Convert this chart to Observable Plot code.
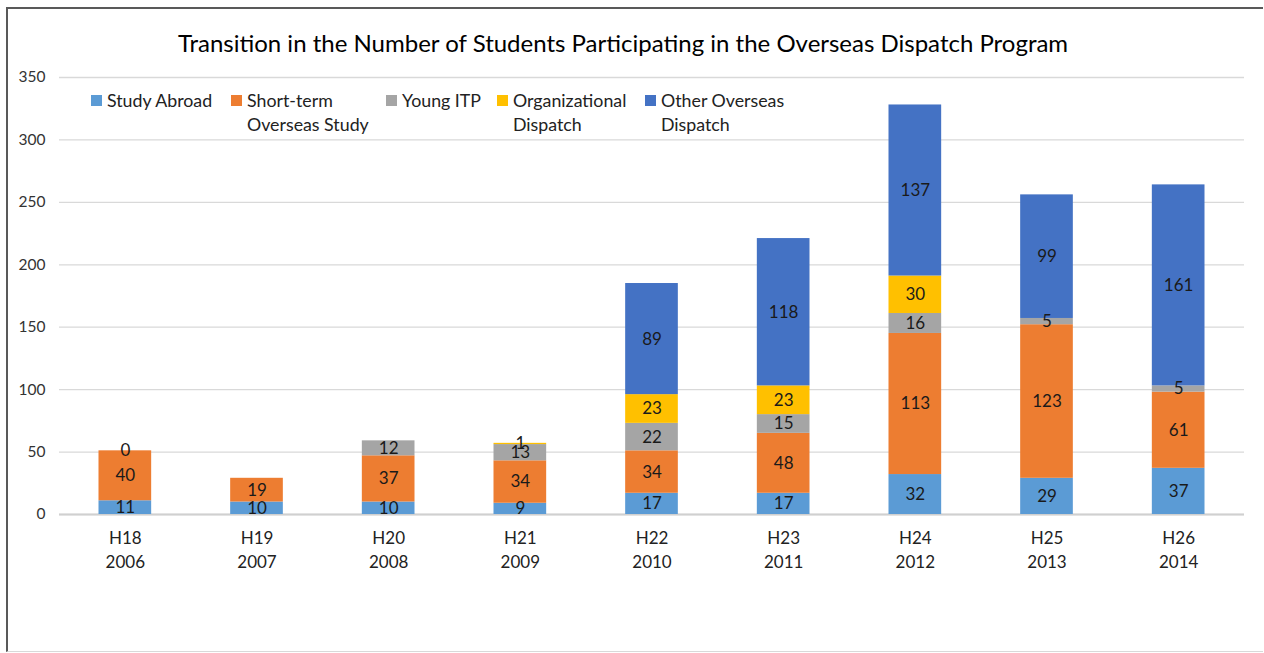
<!DOCTYPE html>
<html>
<head>
<meta charset="utf-8">
<script src="https://cdn.jsdelivr.net/npm/d3@7"></script>
<script src="https://cdn.jsdelivr.net/npm/@observablehq/plot@0.6"></script>
<style>
  html, body { margin: 0; padding: 0; background: #fff; }
  #wrap { position: relative; width: 1264px; height: 653px; font-family: Lato, "Open Sans", sans-serif; }
  #frame { position: absolute; left: 6px; top: 7px; right: 1px; bottom: 1px; border-left: 2px solid #595959; border-top: 2px solid #595959; border-bottom: 1px solid #d9d9d9; pointer-events: none; }
  #title { position: absolute; left: 0; width: 1246px; top: 28px; text-align: center; font-size: 24px; color: #000; }
  #legend { position: absolute; top: 88px; left: 0; font-size: 17.8px; color: #222; }
  .item { position: absolute; display: flex; align-items: flex-start; line-height: 24px; white-space: nowrap; }
  .sw { width: 11px; height: 11px; margin-top: 7px; margin-right: 5px; flex: none; }
  #chart { position: absolute; left: 0; top: 0; }
</style>
</head>
<body>
<div id="wrap">
  <div id="chart"></div>
  <div id="frame"></div>
  <div id="title">Transition in the Number of Students Participating in the Overseas Dispatch Program</div>
  <div id="legend"></div>
</div>
<script>
// ---- data ----
const eras = ["H18", "H19", "H20", "H21", "H22", "H23", "H24", "H25", "H26"];
const years = ["2006", "2007", "2008", "2009", "2010", "2011", "2012", "2013", "2014"];
const seriesNames = ["Study Abroad", "Short-term Overseas Study", "Young ITP", "Organizational Dispatch", "Other Overseas Dispatch"];
const legendLabels = ["Study Abroad", "Short-term<br>Overseas Study", "Young ITP", "Organizational<br>Dispatch", "Other Overseas<br>Dispatch"];
const colors = ["#5B9BD5", "#ED7D31", "#A5A5A5", "#FFC000", "#4472C4"];
const studyAbroad      = [11, 10, 10, 9, 17, 17, 32, 29, 37];
const shortTerm        = [40, 19, 37, 34, 34, 48, 113, 123, 61];
const youngITP         = [0, null, 12, 13, 22, 15, 16, 5, 5];
const organizational   = [null, null, null, 1, 23, 23, 30, null, null];
const otherDispatch    = [null, null, null, null, 89, 118, 137, 99, 161];
const yTicks = [0, 50, 100, 150, 200, 250, 300, 350];

const seriesValues = [studyAbroad, shortTerm, youngITP, organizational, otherDispatch];
const cats = eras.map((e, i) => e + "\n" + years[i]);
const rows = [];
seriesValues.forEach((vals, s) => {
  vals.forEach((v, i) => {
    rows.push({cat: cats[i], series: seriesNames[s], value: v == null ? 0 : v, label: v == null ? null : String(v)});
  });
});

const plot = Plot.plot({
  width: 1264,
  height: 653,
  marginTop: 77,
  marginBottom: 139,
  marginLeft: 59,
  marginRight: 20,
  style: {fontFamily: "Lato, 'Open Sans', sans-serif", background: "transparent"},
  x: {domain: cats, paddingInner: 0.6, paddingOuter: 0.3, round: false, label: null},
  y: {domain: [0, 350], ticks: yTicks, label: null},
  color: {domain: seriesNames, range: colors},
  marks: [
    Plot.gridY(yTicks, {stroke: "#d9d9d9", strokeOpacity: 1, strokeWidth: 1.3}),
    Plot.ruleY([0], {stroke: "#d0d0d0", strokeWidth: 2}),
    Plot.barY(rows, {x: "cat", y: "value", z: "series", fill: "series", order: null}),
    Plot.text(rows, Plot.stackY({x: "cat", y: "value", z: "series", order: null, text: "label", fill: "#1a1a1a", fontSize: 17})),
    Plot.axisY({ticks: yTicks, tickSize: 0, tickPadding: 14, fontSize: 15.5, color: "#333", label: null}),
    Plot.axisX({tickSize: 0, tickPadding: 13, fontSize: 17, lineHeight: 1.4, color: "#222", label: null})
  ]
});
document.getElementById("chart").appendChild(plot);

// legend
const legendX = [91, 231, 386, 497, 645];
const leg = document.getElementById("legend");
seriesNames.forEach((s, i) => {
  const d = document.createElement("div");
  d.className = "item";
  d.style.left = legendX[i] + "px";
  d.innerHTML = `<span class="sw" style="background:${colors[i]}"></span><span>${legendLabels[i]}</span>`;
  leg.appendChild(d);
});
</script>
</body>
</html>
